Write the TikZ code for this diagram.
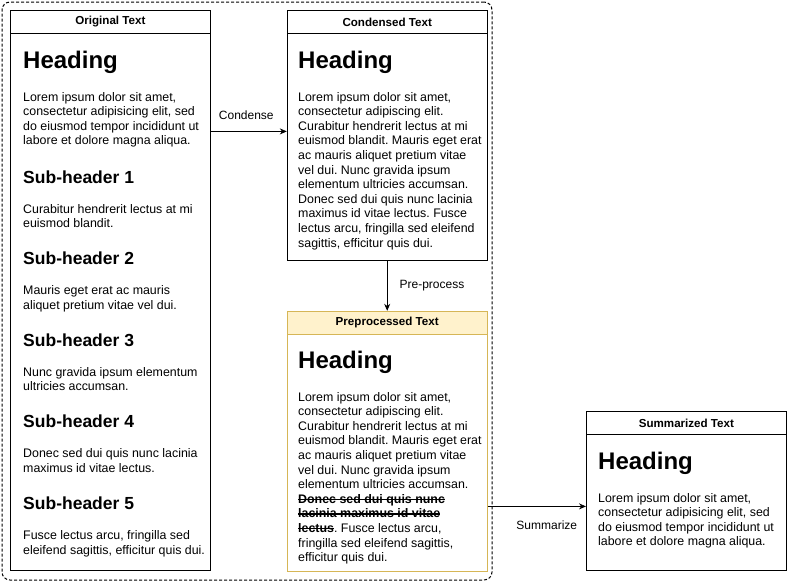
\documentclass[tikz,border=0pt]{standalone}
\usepackage{fontspec}
\setmainfont{Liberation Sans}
\usepackage{tikz}
\usetikzlibrary{arrows.meta,positioning}

\definecolor{prepfill}{HTML}{FFF2CC}
\definecolor{prepdraw}{HTML}{D6B656}

\newcommand{\headfont}{\fontsize{24}{28}\selectfont\bfseries}
\newcommand{\subfont}{\fontsize{17.5}{21}\selectfont\bfseries}
\newcommand{\bodyfont}{\fontsize{12.4}{14.6}\selectfont\frenchspacing}
\newsavebox{\cutbox}
\newcommand{\cut}[1]{\sbox{\cutbox}{\textbf{#1}}\rlap{\rule[3.3pt]{\wd\cutbox}{1.1pt}}\usebox{\cutbox}}

\begin{document}
\begin{tikzpicture}[x=1pt,y=-1pt,>={Stealth[length=7pt,width=6pt]}]
	\tikzstyle{panel} = [draw, rectangle, line width=0.8pt, minimum width=200pt, inner sep=0pt]
	\tikzstyle{title} = [draw, rectangle, line width=0.8pt, minimum width=200pt, minimum height=23pt, inner sep=0pt, font=\fontsize{11.6}{14}\selectfont\bfseries]
	\tikzstyle{heading} = [anchor=base west, inner sep=0pt, font=\headfont]
	\tikzstyle{subhead} = [anchor=base west, inner sep=0pt, font=\subfont]
	% base of a multi-line node is its last line
	\tikzstyle{body} = [anchor=base west, inner sep=0pt, align=left, font=\bodyfont]
	\tikzstyle{edgelabel} = [inner sep=0pt, font=\fontsize{12}{14}\selectfont]

	\useasboundingbox (0,0) rectangle (787,582);

	% dashed group round the first three steps
	\node [draw, line width=1pt, dash pattern=on 3pt off 2pt, rounded corners=8pt, minimum width=490pt, minimum height=578pt, inner sep=0pt] (group) at (247,291) {};

	% boxes
	\node [panel, minimum height=560pt, anchor=north west] (orig) at (10,10) {};
	\node [title, anchor=north] (origtitle) at (orig.north) {Original Text};

	\node [panel, minimum height=250pt, right=76pt of orig.north east, anchor=north west] (cond) {};
	\node [title, anchor=north] (condtitle) at (cond.north) {Condensed Text};

	\node [panel, draw=prepdraw, minimum height=260pt, below=50pt of cond] (prep) {};
	\node [title, draw=prepdraw, fill=prepfill, anchor=north] (preptitle) at (prep.north) {Preprocessed Text};

	\node [panel, minimum height=159pt, anchor=north west] (summ) at (586,411) {};
	\node [title, anchor=north] (summtitle) at (summ.north) {Summarized Text};

	% original text
	\node [heading] (orighead) at (23,68) {Heading};
	\node [body] (origtext) at (23,101+3*14.6) {Lorem ipsum dolor sit amet,\\consectetur adipisicing elit, sed\\do eiusmod tempor incididunt ut\\labore et dolore magna aliqua.};
	\foreach \i/\la/\lb [evaluate=\i as \y using 183+81.6*(\i-1)] in {
		1/{Curabitur hendrerit lectus at mi}/{euismod blandit.},
		2/{Mauris eget erat ac mauris}/{aliquet pretium vitae vel dui.},
		3/{Nunc gravida ipsum elementum}/{ultricies accumsan.},
		4/{Donec sed dui quis nunc lacinia}/{maximus id vitae lectus.},
		5/{Fusce lectus arcu, fringilla sed}/{eleifend sagittis, efficitur quis dui.}}
	{
		\node [subhead] (sub\i) at (23,\y) {Sub-header \i};
		\node [body] (subtext\i) at (23,\y+30+14.6) {\la\\\lb};
	}

	% condensed text
	\node [heading] (condhead) at (298,68) {Heading};
	\node [body] (condtext) at (298,101+10*14.6) {Lorem ipsum dolor sit amet,\\consectetur adipiscing elit.\\Curabitur hendrerit lectus at mi\\euismod blandit. Mauris eget erat\\ac mauris aliquet pretium vitae\\vel dui. Nunc gravida ipsum\\elementum ultricies accumsan.\\Donec sed dui quis nunc lacinia\\maximus id vitae lectus. Fusce\\lectus arcu, fringilla sed eleifend\\sagittis, efficitur quis dui.};

	% preprocessed text
	\node [heading] (prephead) at (298,368) {Heading};
	\node [body] (preptext) at (298,401+11*14.6) {Lorem ipsum dolor sit amet,\\consectetur adipiscing elit.\\Curabitur hendrerit lectus at mi\\euismod blandit. Mauris eget erat\\ac mauris aliquet pretium vitae\\vel dui. Nunc gravida ipsum\\elementum ultricies accumsan.\\\cut{Donec sed dui quis nunc}\\\cut{lacinia maximus id vitae}\\\cut{lectus}. Fusce lectus arcu,\\fringilla sed eleifend sagittis,\\efficitur quis dui.};

	% summarized text
	\node [heading] (summhead) at (598,469) {Heading};
	\node [body] (summtext) at (598,502+3*14.6) {Lorem ipsum dolor sit amet,\\consectetur adipisicing elit, sed\\do eiusmod tempor incididunt ut\\labore et dolore magna aliqua.};

	% connectors
	\coordinate (condin) at ([yshift=4pt]cond.west);
	\coordinate (summin) at ([yshift=-15.5pt]summ.west);

	\draw [->, line width=0.8pt] (orig.east |- condin) -- node[edgelabel, above=11pt, xshift=-2.5pt] (condlabel) {Condense} (condin);

	\draw [->, line width=0.8pt] (cond.south) -- node[edgelabel, right=12pt] (preplabel) {Pre-process} (prep.north);

	\draw [->, line width=0.8pt] (prep.east |- summin) -- node[edgelabel, below=14pt, xshift=10pt] (summlabel) {Summarize} (summin);

\end{tikzpicture}
\end{document}
